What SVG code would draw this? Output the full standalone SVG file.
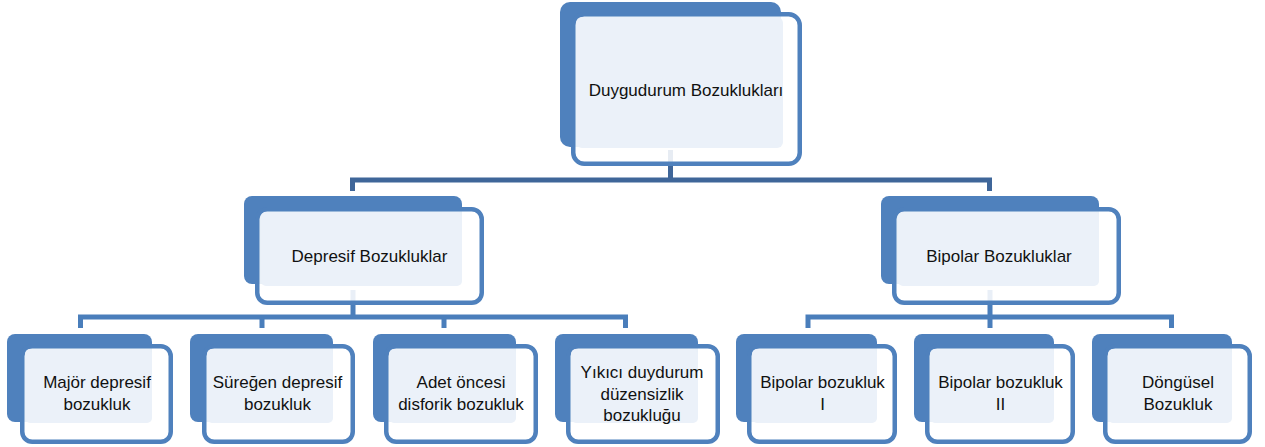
<svg xmlns="http://www.w3.org/2000/svg" width="1265" height="447" viewBox="0 0 1265 447">
<style>
.back{fill:#4F81BD}
.front{fill:#FFFFFF;fill-opacity:0.88;stroke:#4F81BD;stroke-width:4.5}
.light{fill:#EBF1F9}
.lbl{font-family:"Liberation Sans",Arial,sans-serif;font-size:17px;fill:#111;text-anchor:middle}
.c1{fill:none;stroke:#3F6699;stroke-width:5}
.c2{fill:none;stroke:#4A7EBB;stroke-width:5}
</style>
<rect width="1265" height="447" fill="#FFFFFF"/>
<g id="connectors">
<path class="c1" d="M670.5 150V180M352.5 191V180H989.5V191"/>
<path class="c2" d="M353 290V317M80.5 328V317H625.5V328M262 317V328M444 317V328"/>
<path class="c2" d="M990 290V317M808 328V317H1171.5V328M990 317V328"/>
</g>
<g id="n-root">
<rect class="back" x="560" y="2" width="221" height="145" rx="10"/>
<rect class="front" x="573.25" y="14.25" width="226.5" height="149.5" rx="11"/>
<rect class="light" x="576" y="17" width="207" height="131" rx="6"/>
<text class="lbl" x="686" y="96">Duygudurum Bozuklukları</text>
</g>
<g id="n-depresif">
<rect class="back" x="244" y="196" width="218" height="88" rx="8"/>
<rect class="front" x="257.25" y="209.25" width="224.5" height="93.5" rx="10"/>
<rect class="light" x="261" y="212" width="201" height="74" rx="5"/>
<text class="lbl" x="369.5" y="262">Depresif Bozukluklar</text>
</g>
<g id="n-bipolar">
<rect class="back" x="881" y="196" width="218" height="88" rx="8"/>
<rect class="front" x="894.25" y="209.25" width="224.5" height="93.5" rx="10"/>
<rect class="light" x="898" y="212" width="201" height="74" rx="5"/>
<text class="lbl" x="999" y="262">Bipolar Bozukluklar</text>
</g>
<g id="n-majör">
<rect class="back" x="7" y="334" width="145" height="88" rx="8"/>
<rect class="front" x="22.25" y="346.25" width="148.5" height="95.5" rx="10"/>
<rect class="light" x="25" y="349" width="127" height="74" rx="5"/>
<text class="lbl" x="97" y="388">Majör depresif</text>
<text class="lbl" x="97" y="410">bozukluk</text>
</g>
<g id="n-sureğen">
<rect class="back" x="190" y="334" width="143" height="88" rx="8"/>
<rect class="front" x="204.25" y="346.25" width="148.5" height="95.5" rx="10"/>
<rect class="light" x="207" y="349" width="126" height="74" rx="5"/>
<text class="lbl" x="277.5" y="388">Süreğen depresif</text>
<text class="lbl" x="277.5" y="410">bozukluk</text>
</g>
<g id="n-adet">
<rect class="back" x="373" y="334" width="143" height="88" rx="8"/>
<rect class="front" x="386.25" y="346.25" width="149.5" height="95.5" rx="10"/>
<rect class="light" x="389" y="349" width="127" height="74" rx="5"/>
<text class="lbl" x="461" y="388">Adet öncesi</text>
<text class="lbl" x="461" y="410">disforik bozukluk</text>
</g>
<g id="n-yikici">
<rect class="back" x="555" y="334" width="143" height="88" rx="8"/>
<rect class="front" x="568.25" y="346.25" width="149.5" height="95.5" rx="10"/>
<rect class="light" x="571" y="349" width="127" height="74" rx="5"/>
<text class="lbl" x="642" y="378">Yıkıcı duydurum</text>
<text class="lbl" x="642" y="400">düzensizlik</text>
<text class="lbl" x="642" y="421">bozukluğu</text>
</g>
<g id="n-bipolar1">
<rect class="back" x="736" y="334" width="141" height="88" rx="8"/>
<rect class="front" x="749.25" y="346.25" width="145.5" height="95.5" rx="10"/>
<rect class="light" x="752" y="349" width="125" height="74" rx="5"/>
<text class="lbl" x="822.5" y="388">Bipolar bozukluk</text>
<text class="lbl" x="822.5" y="410">I</text>
</g>
<g id="n-bipolar2">
<rect class="back" x="914" y="334" width="140" height="88" rx="8"/>
<rect class="front" x="927.25" y="346.25" width="145.5" height="95.5" rx="10"/>
<rect class="light" x="930" y="349" width="124" height="74" rx="5"/>
<text class="lbl" x="1000.5" y="388">Bipolar bozukluk</text>
<text class="lbl" x="1000.5" y="410">II</text>
</g>
<g id="n-dongusel">
<rect class="back" x="1092" y="334" width="140" height="88" rx="8"/>
<rect class="front" x="1105.25" y="346.25" width="144.5" height="95.5" rx="10"/>
<rect class="light" x="1108" y="349" width="124" height="74" rx="5"/>
<text class="lbl" x="1178" y="388">Döngüsel</text>
<text class="lbl" x="1178" y="410">Bozukluk</text>
</g>
</svg>
